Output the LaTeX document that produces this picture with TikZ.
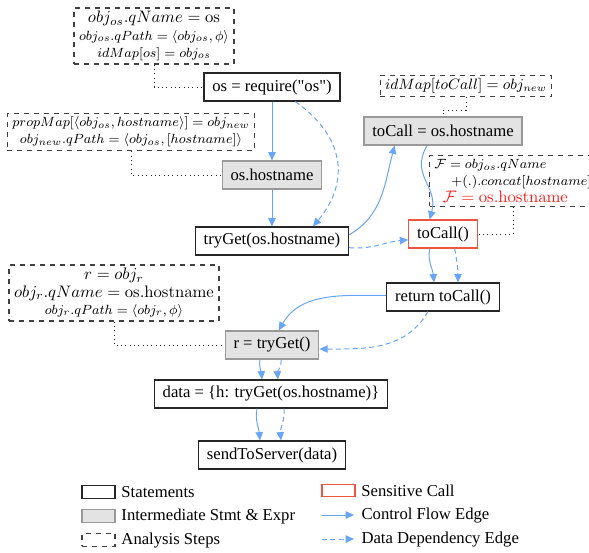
\documentclass[tikz,border=0pt]{standalone}
\usepackage[no-math]{fontspec}
\setmainfont{Liberation Serif}[Ligatures=TeXOff]
\usepackage{amsmath}
\usetikzlibrary{arrows.meta,positioning}
\definecolor{flowblue}{RGB}{105,165,245}
\definecolor{sensred}{RGB}{235,85,65}
\definecolor{taint}{RGB}{255,25,25}
\newcommand{\bigline}[1]{{\fontsize{9.8}{10}\selectfont$#1$}}
\tikzset{
  stmt/.style={draw=black!85,fill=white,line width=0.7pt,inner xsep=5pt,inner ysep=2pt,minimum height=16.8pt},
  inter/.style={stmt,draw=black!40,fill=black!11},
  sens/.style={stmt,draw=sensred},
  analysis/.style={draw=black!75,dashed,line width=0.7pt,align=center,inner xsep=3pt,inner ysep=2pt,font=\fontsize{8.1}{10.3}\selectfont},
  flow/.style={draw=flowblue,line width=0.6pt,-{Triangle[length=5pt,width=4.5pt]}},
  dep/.style={flow,dash pattern=on 3pt off 2pt},
  link/.style={draw=black!85,dotted,line width=0.6pt},
  legendbox/.style={minimum width=19.8pt,minimum height=7.5pt,inner sep=0pt},
}
\begin{document}
\begin{tikzpicture}[x=0.6pt,y=-0.6pt]
	\useasboundingbox (0,0) rectangle (589,552);
	
	% analysis steps
	\node[analysis] (objos) at (154,36) {\bigline{obj_{os}.qName = \mathrm{os}}\\ $obj_{os}.qPath = \langle obj_{os}, \phi\rangle$\\ $idMap[os] = obj_{os}$};
	\node[analysis] (prop) at (131,132) {$propMap[\langle obj_{os}, hostname\rangle] = obj_{new}$\\ $obj_{new}.qPath = \langle obj_{os}, [hostname]\rangle$};
	\node[analysis,font=\fontsize{8.7}{10}\selectfont] (idmap) at (466,86) {$idMap[toCall] = obj_{new}$};
	\node[analysis,align=left] (fname) at (513,181) {$\mathcal{F} = obj_{os}.qName$\\ \hspace{10pt}{\fontsize{7.6}{8}\selectfont$+(.).concat[hostname]$}\\ \hspace{5pt}{\color{taint}\bigline{\mathcal{F} = \mathrm{os.hostname}}}};
	\node[analysis] (objr) at (114,293) {\bigline{r = obj_r}\\ \bigline{obj_r.qName = \mathrm{os.hostname}}\\ $obj_r.qPath = \langle obj_r, \phi\rangle$};
	
	% statements
	\node[stmt] (req) at (272,87) {os = require("os")};
	\node[inter] (host) at (272,175) {os.hostname};
	\node[stmt] (try) at (272,241) {tryGet(os.hostname)};
	\node[inter] (tocall) at (443,131) {toCall = os.hostname};
	\node[sens] (call) at (443,234) {toCall()};
	\node[stmt] (ret) at (443,297) {return toCall()};
	\node[inter] (r) at (272,345) {r = tryGet()};
	\node[stmt] (data) at (271,394) {data = \{h: tryGet(os.hostname)\}};
	\node[stmt] (send) at (272,455) {sendToServer(data)};
	
	% dotted links
	\draw[link] (objos.south) |- (req.west);
	\draw[link] (prop.south) |- (host.west);
	\draw[link] (idmap.south) -- ++(0,13) -| (tocall.north);
	\draw[link] (fname.south) |- (call.east);
	\draw[link] (objr.south) |- (r.west);
	
	% edges
	\draw[flow] (req) -- (host);
	\draw[flow] (host) -- (try);
	\draw[dep] ([xshift=14pt]req.south) to[out=-35,in=50,looseness=1.2] ([xshift=24.6pt]try.north);
	\draw[flow] ([yshift=-5pt]try.north east) to[out=30,in=-105] ([xshift=-29pt]tocall.south);
	\draw[dep] ([yshift=-4pt]try.east) to[out=-5,in=185] ([yshift=-3.5pt]call.west);
	\draw[flow] ([xshift=-9.6pt]tocall.south) to[out=-120,in=75,looseness=1.2] ([xshift=-8pt]call.north);
	\draw[flow] ([xshift=-8pt]call.south) to[out=-100,in=95] ([xshift=-5.4pt]ret.north);
	\draw[dep] ([xshift=7pt]call.south) to[out=-80,in=90] ([xshift=9pt]ret.north);
	\draw[flow] ([yshift=1pt]ret.west) to[out=180,in=60] ([xshift=4pt]r.north);
	\draw[dep] ([xshift=-9pt]ret.south) to[out=-120,in=0] ([yshift=-2.4pt]r.east);
	\draw[flow] ([xshift=-7.2pt]r.south) to[out=-100,in=95] ([xshift=-5.4pt]data.north);
	\draw[dep] ([xshift=5.4pt]r.south) to[out=-85,in=95] ([xshift=4.2pt]data.north);
	\draw[flow] ([xshift=-8.4pt]data.south) to[out=-100,in=95] ([xshift=-7.2pt]send.north);
	\draw[dep] ([xshift=7.8pt]data.south) to[out=-85,in=95] ([xshift=5.4pt]send.north);
	
	% legend
	\node[stmt,legendbox] (lgstmt) at (98.5,492) {};
	\node[right=0pt of lgstmt] {Statements};
	\node[inter,legendbox] (lginter) at (98.5,516) {};
	\node[right=0pt of lginter] {Intermediate Stmt \& Expr};
	\node[analysis,legendbox] (lgstep) at (98.5,540) {};
	\node[right=0pt of lgstep] {Analysis Steps};
	\node[sens,legendbox] (lgsens) at (338.5,490.5) {};
	\node[right=0pt of lgsens] {Sensitive Call};
	\coordinate (lgf1) at (322,515);
	\coordinate (lgf2) at (354,515);
	\draw[flow] (lgf1) -- (lgf2);
	\node[right=1pt of lgf2] {Control Flow Edge};
	\coordinate (lgd1) at (322,539);
	\coordinate (lgd2) at (354,539);
	\draw[dep] (lgd1) -- (lgd2);
	\node[right=1pt of lgd2] {Data Dependency Edge};
\end{tikzpicture}
\end{document}
